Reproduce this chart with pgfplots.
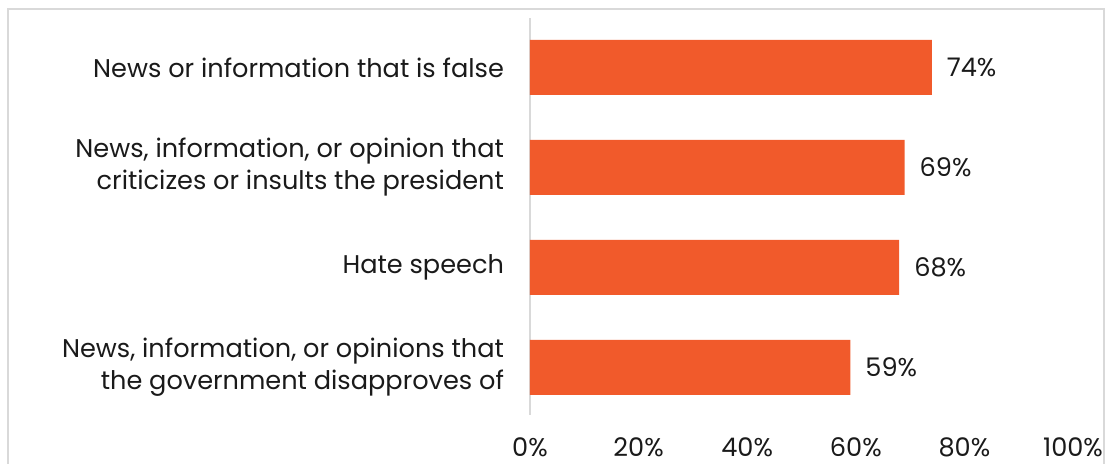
\documentclass[border=0pt]{standalone}
\usepackage{fontspec}
\setmainfont{Poppins}
\usepackage{pgfplots}
\pgfplotsset{compat=1.18}
\definecolor{barc}{HTML}{F15A2B}
\definecolor{framec}{HTML}{D9D9D9}
\definecolor{txt}{HTML}{1A1A1A}
\begin{document}
\begin{tikzpicture}[x=1pt,y=1pt]
\useasboundingbox (-265,-24.5) rectangle (291,207.5);
\draw[framec, line width=0.75pt] (-261,-40) -- (-261,203) -- (287,203) -- (287,-40);
\begin{axis}[
  at={(0,0)}, anchor=south west,
  scale only axis, width=271.5pt, height=198.5pt,
  xmin=0, xmax=100, ymin=-0.475, ymax=3.495,
  xbar, bar width=0.55,
  axis lines=left, axis line style={-},
  x axis line style={draw=none},
  y axis line style={draw=framec, line width=0.75pt},
  tick style={draw=none}, major tick length=0pt,
  xtick={0,20,...,100},
  xticklabel={\pgfmathprintnumber{\tick}\%},
  /pgf/number format/assume math mode=true,
  ytick={0,1,2,3},
  yticklabels={{News, information, or opinions that\\the government disapproves of},
               {Hate speech},
               {News, information, or opinion that\\criticizes or insults the president},
               {News or information that is false}},
  every tick label/.append style={font=\fontsize{12.8}{16}\selectfont, text=txt},
  yticklabel style={align=right, xshift=-9.5pt},
  xticklabel style={yshift=-8pt},
  nodes near coords={\pgfmathprintnumber{\pgfplotspointmeta}\%},
  point meta=x,
  every node near coord/.append style={font=\fontsize{12.8}{16}\selectfont, text=txt, xshift=4pt},
]
\addplot[fill=barc, draw=none] coordinates {(59,0) (68,1) (69,2) (74,3)};
\end{axis}
\end{tikzpicture}
\end{document}
